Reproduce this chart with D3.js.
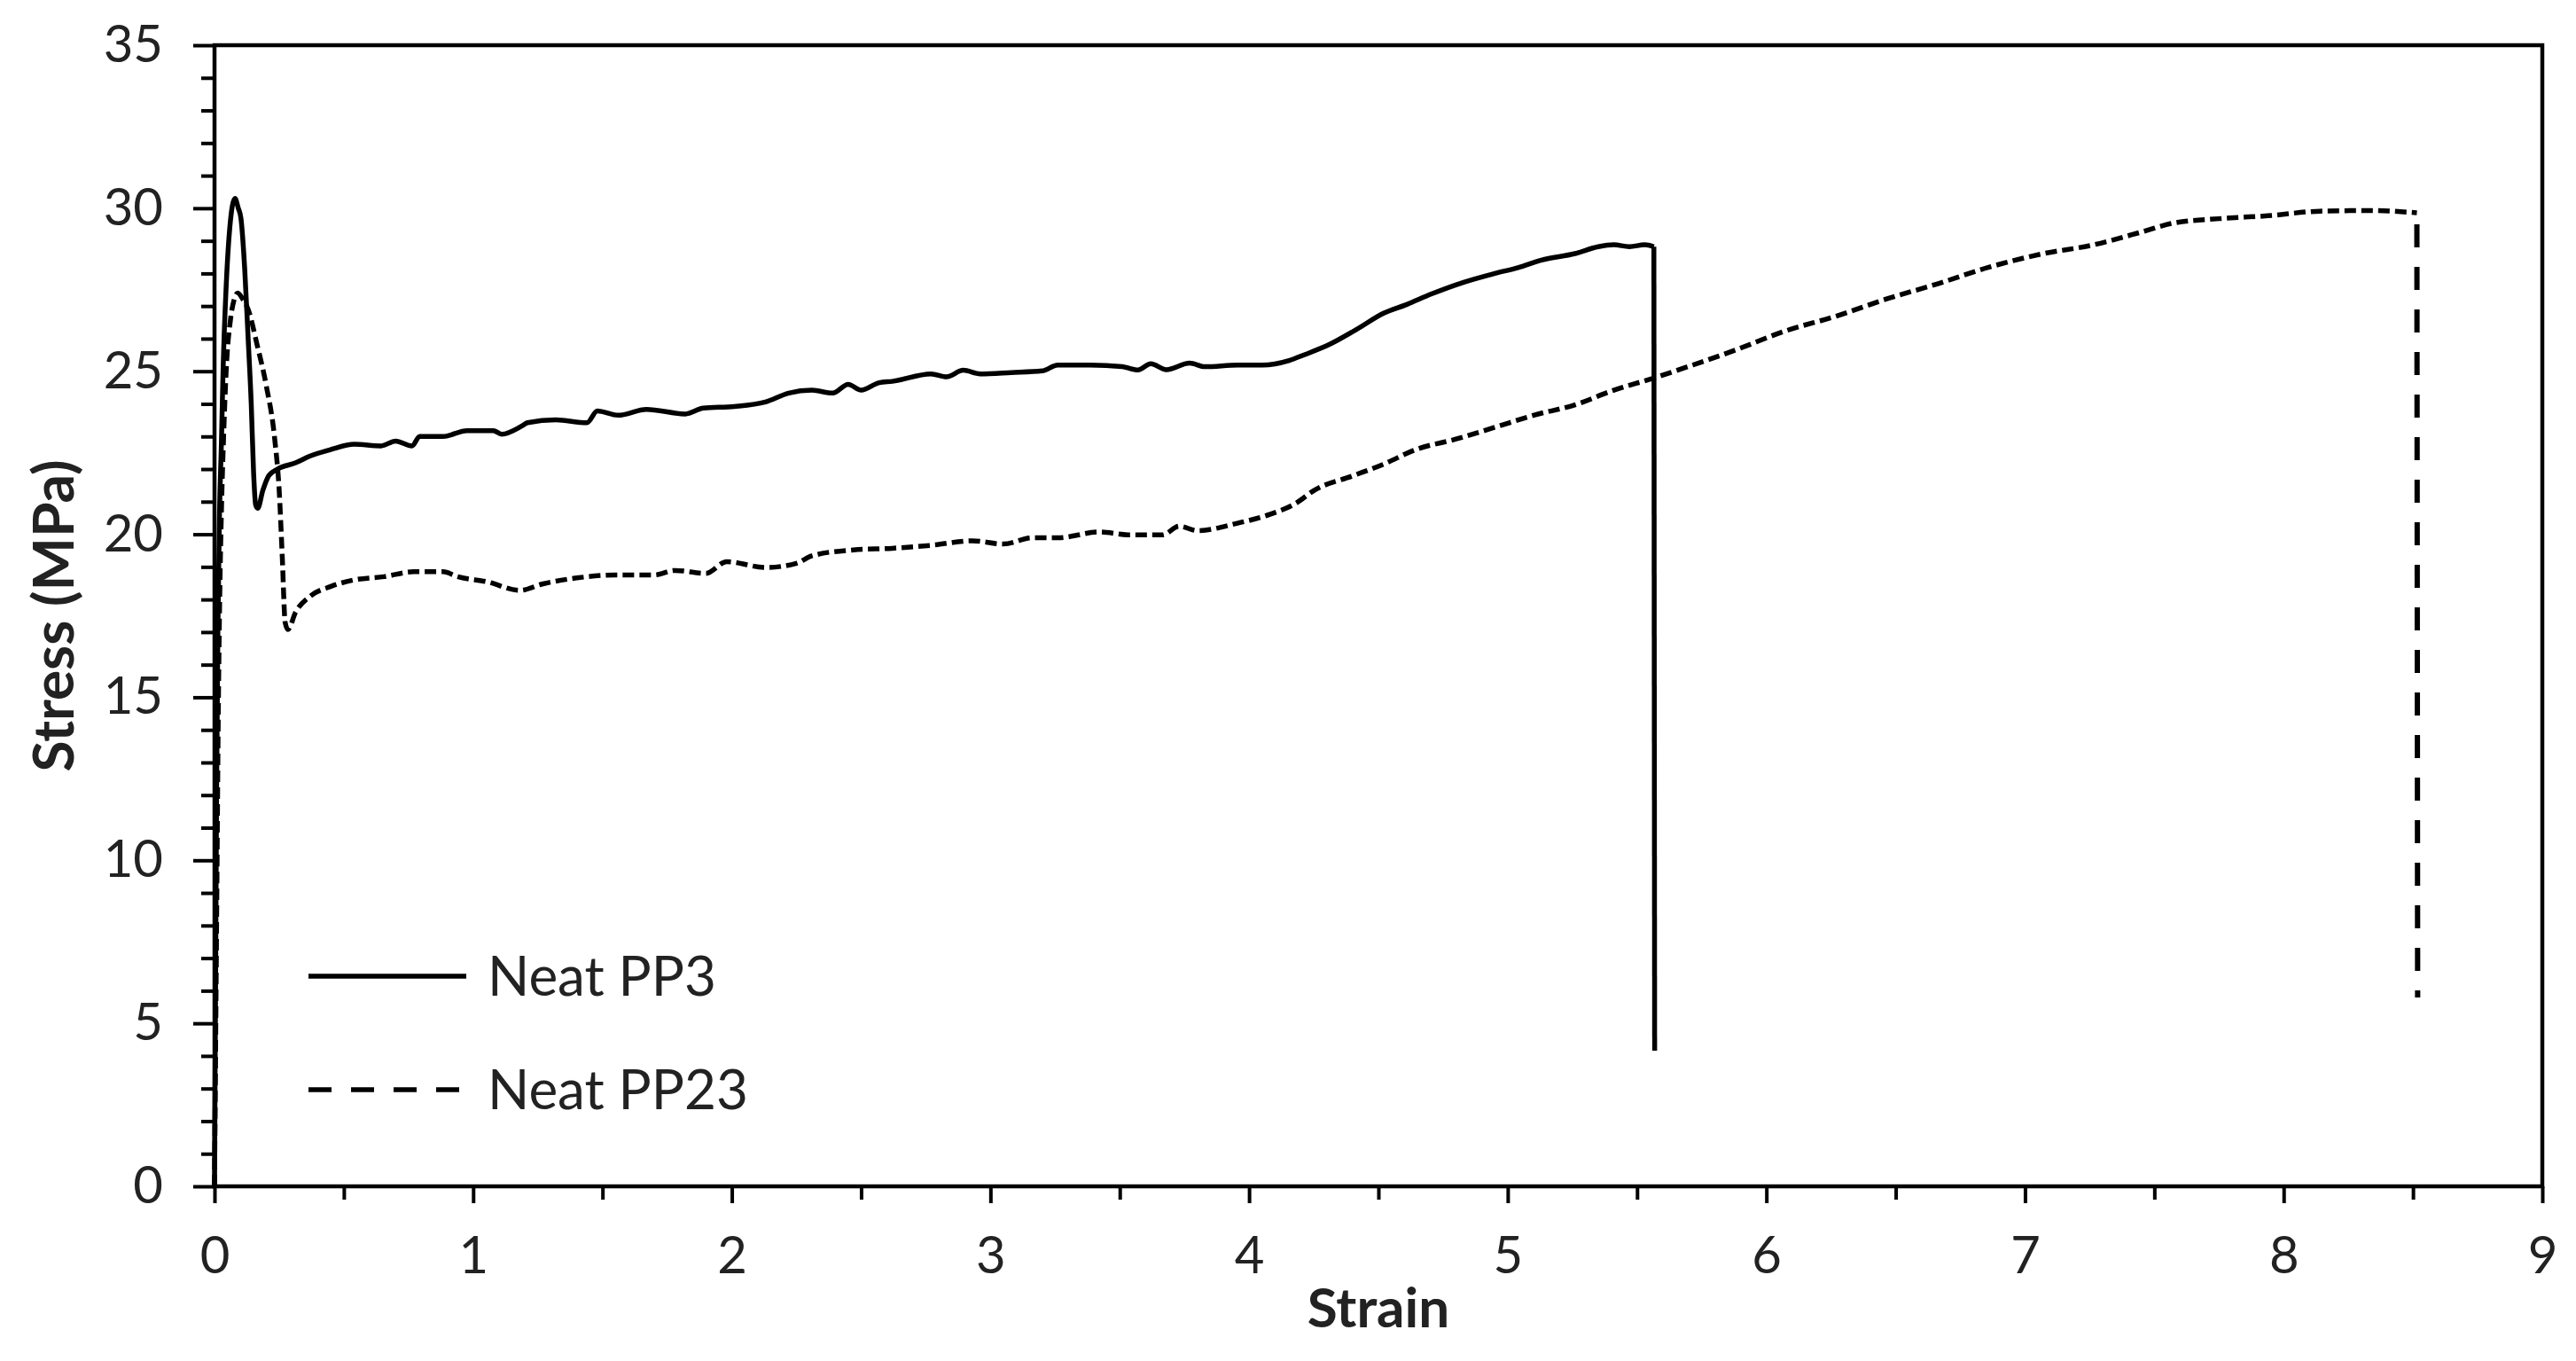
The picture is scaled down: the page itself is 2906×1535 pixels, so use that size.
<!DOCTYPE html>
<html>
<head>
<meta charset="utf-8">
<script src="https://cdn.jsdelivr.net/npm/d3@7"></script>
<style>
  html, body { margin: 0; padding: 0; background: #fff; }
  svg { display: block; }
  text { font-family: Lato, "Open Sans", sans-serif; fill: #222; }
</style>
</head>
<body>
<script>
// ---------- data ----------
const seriesNames = ["Neat PP3", "Neat PP23"];
const xTickValues = [0, 1, 2, 3, 4, 5, 6, 7, 8, 9];
const yTickValues = [0, 5, 10, 15, 20, 25, 30, 35];
const xLabel = "Strain";
const yLabel = "Stress (MPa)";

const pp3Strain = [0, 0.004, 0.008, 0.013, 0.019, 0.027, 0.033, 0.045, 0.059, 0.079, 0.092, 0.102, 0.117, 0.130, 0.142, 0.151, 0.159, 0.167, 0.187, 0.21, 0.244, 0.313, 0.37, 0.45, 0.54, 0.644, 0.70, 0.764, 0.793, 0.884, 0.976, 1.078, 1.11, 1.19, 1.21, 1.32, 1.44, 1.48, 1.56, 1.67, 1.82, 1.89, 2.01, 2.13, 2.22, 2.31, 2.39, 2.45, 2.50, 2.57, 2.62, 2.77, 2.83, 2.895, 2.96, 3.08, 3.20, 3.26, 3.385, 3.51, 3.57, 3.62, 3.68, 3.77, 3.83, 3.955, 4.05, 4.155, 4.215, 4.31, 4.415, 4.52, 4.61, 4.705, 4.83, 4.95, 5.04, 5.13, 5.26, 5.35, 5.41, 5.47, 5.53, 5.565, 5.568];
const pp3Stress = [0, 6, 12, 17, 20.5, 22.9, 25.0, 27.6, 29.4, 30.3, 30.0, 29.7, 28.1, 26.0, 24.0, 21.9, 20.9, 20.8, 21.35, 21.8, 22.0, 22.19, 22.4, 22.6, 22.76, 22.71, 22.86, 22.71, 23.0, 23.0, 23.18, 23.18, 23.07, 23.33, 23.42, 23.51, 23.42, 23.78, 23.65, 23.83, 23.69, 23.87, 23.92, 24.06, 24.33, 24.42, 24.33, 24.6, 24.42, 24.65, 24.69, 24.92, 24.83, 25.03, 24.92, 24.96, 25.01, 25.19, 25.19, 25.14, 25.04, 25.23, 25.05, 25.25, 25.14, 25.19, 25.19, 25.33, 25.51, 25.82, 26.28, 26.78, 27.05, 27.37, 27.73, 28.0, 28.18, 28.41, 28.61, 28.82, 28.88, 28.82, 28.88, 28.82, 4.16];

const pp23Strain = [0, 0.004, 0.009, 0.014, 0.02, 0.027, 0.036, 0.045, 0.062, 0.076, 0.09, 0.11, 0.13, 0.165, 0.199, 0.233, 0.25, 0.262, 0.273, 0.284, 0.313, 0.37, 0.45, 0.54, 0.656, 0.77, 0.884, 0.94, 1.055, 1.18, 1.27, 1.40, 1.55, 1.70, 1.78, 1.90, 1.98, 2.13, 2.25, 2.31, 2.47, 2.62, 2.77, 2.93, 3.05, 3.16, 3.26, 3.42, 3.54, 3.665, 3.73, 3.80, 3.955, 4.08, 4.185, 4.25, 4.40, 4.52, 4.645, 4.80, 4.95, 5.10, 5.26, 5.41, 5.56, 5.715, 5.88, 6.075, 6.27, 6.47, 6.665, 6.86, 7.06, 7.26, 7.45, 7.57, 7.75, 7.94, 8.14, 8.34, 8.515, 8.518];
const pp23Stress = [0, 4, 9, 14, 18, 20.8, 23.2, 25.0, 26.6, 27.2, 27.4, 27.2, 26.9, 25.8, 24.6, 22.9, 21.35, 19.3, 17.3, 17.08, 17.6, 18.1, 18.4, 18.6, 18.7, 18.85, 18.85, 18.7, 18.54, 18.28, 18.48, 18.66, 18.75, 18.75, 18.89, 18.8, 19.16, 18.98, 19.11, 19.34, 19.52, 19.57, 19.66, 19.8, 19.7, 19.89, 19.89, 20.07, 19.98, 19.98, 20.25, 20.11, 20.34, 20.61, 20.97, 21.34, 21.79, 22.15, 22.6, 22.92, 23.28, 23.65, 23.97, 24.42, 24.78, 25.19, 25.65, 26.24, 26.69, 27.23, 27.69, 28.19, 28.59, 28.87, 29.27, 29.54, 29.68, 29.77, 29.91, 29.93, 29.86, 5.79];

// ---------- layout ----------
const W = 2906, H = 1535;
const L = 242, R = 2868, T = 51, B = 1338;

const svg = d3.select("body").append("svg").attr("width", W).attr("height", H);
svg.append("rect").attr("width", W).attr("height", H).attr("fill", "#fff");

const x = d3.scaleLinear().domain([0, 9]).range([L, R]);
const y = d3.scaleLinear().domain([0, 35]).range([B, T]);

const toPts = (xs, ys) => xs.map((v, i) => [v, ys[i]]);
const pp3 = toPts(pp3Strain, pp3Stress);
const pp23 = toPts(pp23Strain, pp23Stress);

const smooth = d3.line().x(d => x(d[0])).y(d => y(d[1])).curve(d3.curveMonotoneX);
const straight = d3.line().x(d => x(d[0])).y(d => y(d[1]));

// minor ticks
const xMinor = d3.range(0.5, 9, 1);
const yMinor = d3.range(0, 35, 1).filter(v => v % 5 !== 0);

const gx = svg.append("g").attr("transform", `translate(0,${B})`);
gx.call(d3.axisBottom(x).tickValues(xMinor).tickSize(15).tickFormat(""));
gx.select(".domain").remove();
const gx2 = svg.append("g").attr("transform", `translate(0,${B})`);
gx2.call(d3.axisBottom(x).tickValues(xTickValues).tickSize(19).tickPadding(38).tickFormat(d3.format("d")));
gx2.select(".domain").remove();

const gy = svg.append("g").attr("transform", `translate(${L},0)`);
gy.call(d3.axisLeft(y).tickValues(yMinor).tickSize(15).tickFormat(""));
gy.select(".domain").remove();
const gy2 = svg.append("g").attr("transform", `translate(${L},0)`);
gy2.call(d3.axisLeft(y).tickValues(yTickValues).tickSize(24).tickPadding(34).tickFormat(d3.format("d")));
gy2.select(".domain").remove();

svg.selectAll(".tick line").attr("stroke", "#000").attr("stroke-width", 4);
svg.selectAll(".tick text")
  .attr("font-family", "Lato, 'Open Sans', sans-serif")
  .attr("font-size", 58)
  .attr("fill", "#222");

// frame
svg.append("rect")
  .attr("x", L).attr("y", T).attr("width", R - L).attr("height", B - T)
  .attr("fill", "none").attr("stroke", "#000").attr("stroke-width", 4.5);

// series
const g = svg.append("g");
g.append("path").datum(pp3.slice(0, -1))
  .attr("d", smooth).attr("fill", "none").attr("stroke", "#000")
  .attr("stroke-width", 5.5).attr("stroke-linejoin", "round");
g.append("path").datum(pp3.slice(-2))
  .attr("d", straight).attr("fill", "none").attr("stroke", "#000")
  .attr("stroke-width", 5.5);

g.append("path").datum(pp23.slice(0, -1))
  .attr("d", smooth).attr("fill", "none").attr("stroke", "#000")
  .attr("stroke-width", 5.5).attr("stroke-dasharray", "13,6");
// break drawn bottom-up so the dash pattern starts at the end point
g.append("path").datum(pp23.slice(-2).reverse())
  .attr("d", straight).attr("fill", "none").attr("stroke", "#000")
  .attr("stroke-width", 6).attr("stroke-dasharray", "26,22")
  .attr("stroke-dashoffset", 18);

// legend
const legend = svg.append("g");
const legRows = [
  {name: seriesNames[0], y: 1101, dash: null},
  {name: seriesNames[1], y: 1229, dash: "26,22"}
];
legRows.forEach(r => {
  legend.append("line")
    .attr("x1", 348).attr("x2", r.dash ? 518 : 526)
    .attr("y1", r.y).attr("y2", r.y)
    .attr("stroke", "#000").attr("stroke-width", 5.5)
    .attr("stroke-dasharray", r.dash);
  legend.append("text")
    .attr("x", 550).attr("y", r.y)
    .attr("dy", "0.36em")
    .attr("font-size", 62)
    .text(r.name);
});

// axis titles
svg.append("text")
  .attr("x", (L + R) / 2).attr("y", 1497)
  .attr("text-anchor", "middle")
  .attr("font-size", 62).attr("font-weight", "bold")
  .text(xLabel);

svg.append("text")
  .attr("transform", `translate(83, ${(T + B) / 2}) rotate(-90)`)
  .attr("text-anchor", "middle")
  .attr("font-size", 64).attr("font-weight", "bold")
  .text(yLabel);
</script>
</body>
</html>
